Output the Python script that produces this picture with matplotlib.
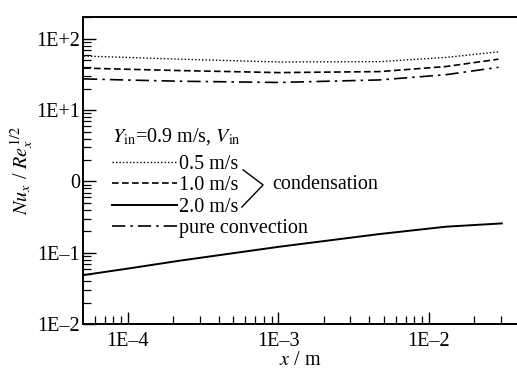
import matplotlib
matplotlib.use("Agg")
import matplotlib.pyplot as plt
from matplotlib.lines import Line2D

plt.rcParams['font.family'] = ['Liberation Serif', 'DejaVu Serif']
plt.rcParams['mathtext.fontset'] = 'stix'
plt.rcParams['font.size'] = 14

# values (log-log)
x_upper = [5.1e-5, 1.0e-4, 2.2e-4, 1.0e-3, 4.7e-3, 1.3e-2, 2.9e-2]
nu_05 = [57.5, 55.0, 52.0, 47.5, 48.0, 55.0, 66.0]
nu_10 = [39.0, 37.5, 36.0, 33.7, 34.8, 41.0, 52.0]
nu_pure = [27.5, 26.5, 25.5, 24.5, 26.6, 31.5, 40.0]

x_low = [5.1e-5, 1.0e-4, 2.2e-4, 1.0e-3, 4.7e-3, 1.3e-2, 3.05e-2]
nu_20 = [0.0487, 0.060, 0.0773, 0.121, 0.183, 0.232, 0.258]

ytick_vals = [1e-2, 1e-1, 1e0, 1e1, 1e2]
ytick_labels = ["1E–2", "1E–1", "0", "1E+1", "1E+2"]
xtick_vals = [1e-4, 1e-3, 1e-2]
xtick_labels = ["1E–4", "1E–3", "1E–2"]

fig = plt.figure(figsize=(5.17, 3.70), dpi=100)
ax = fig.add_axes([0.1605, 0.1243, 0.8395, 0.8297])

ax.plot(x_upper, nu_05, color="black", lw=1.0, dashes=(1, 1.5))
ax.plot(x_upper, nu_10, color="black", lw=1.2, dashes=(4, 2))
ax.plot(x_low, nu_20, color="black", lw=1.4)
ax.plot(x_upper, nu_pure, color="black", lw=1.2, dashes=(8, 3, 1.5, 3))

ax.set_xscale("log")
ax.set_yscale("log")
ax.set_xlim(5.02e-5, 0.0385)
ax.set_ylim(1e-2, 203)

ax.set_yticks(ytick_vals)
ax.set_yticklabels(ytick_labels)
ax.set_xticks(xtick_vals)
ax.set_xticklabels(xtick_labels)
ax.tick_params(which="major", direction="in", length=9, width=1.0, labelsize=14.5, pad=2)
ax.tick_params(which="minor", direction="in", length=6, width=0.9)
ax.tick_params(axis="x", which="both", top=False)
ax.tick_params(axis="x", which="major", pad=6)
ax.tick_params(axis="y", which="both", right=False)

for s in ["left", "bottom", "top"]:
    ax.spines[s].set_linewidth(1.4)
ax.spines["right"].set_visible(False)

ax.set_xlabel("$x$ / m", fontsize=14.5, labelpad=0)
ax.set_ylabel("$Nu_x$ / $Re_x^{1/2}$", fontsize=14.5, labelpad=0)

handles = [
    Line2D([], [], color="black", lw=1.0, dashes=(1, 1.5)),
    Line2D([], [], color="black", lw=1.2, dashes=(4, 2)),
    Line2D([], [], color="black", lw=1.4),
    Line2D([], [], color="black", lw=1.2, dashes=(8, 3, 1.5, 3)),
]
labels = ["0.5 m/s", "1.0 m/s", "2.0 m/s", "pure convection"]
leg = ax.legend(handles, labels, loc="upper left", bbox_to_anchor=(0.067, 0.645),
                frameon=False, fontsize=14.5, handlelength=3.2, handletextpad=0.1,
                labelspacing=0.1, borderaxespad=0, borderpad=0,
                title="$Y_{\\rm in}$=0.9 m/s, $V_{\\rm in}$", title_fontsize=14.5,
                alignment="left")
leg._legend_box.sep = 6

# brace grouping the condensation cases
ax.plot([0.369, 0.415, 0.366], [0.502, 0.453, 0.381], transform=ax.transAxes,
        color="black", lw=1.0)
ax.text(0.435, 0.453, "condensation", transform=ax.transAxes, fontsize=14.5,
        va="center", ha="left")

fig.savefig("out.png", dpi=100)
